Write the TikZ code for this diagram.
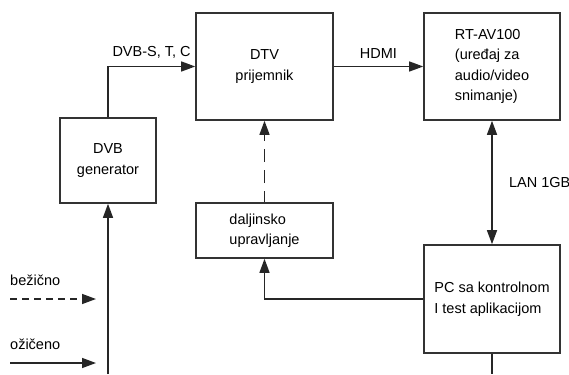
\documentclass[tikz,border=0pt]{standalone}
\usepackage{fontspec}
\setmainfont{Liberation Sans}
\usetikzlibrary{positioning, arrows.meta}

\tikzset{
  blok/.style={draw=black!80, line width=1.6pt, align=center, inner sep=2pt},
  veza/.style={draw=black!85, line width=1.4pt, -{Triangle[length=14pt,width=10pt]}},
  bezicno/.style={dash pattern=on 7pt off 5pt},
  zicano/.style={solid},
}

\begin{document}
\begin{tikzpicture}[x=1pt, y=-1pt, font=\fontsize{14.5}{20.5}\selectfont]
\useasboundingbox (0,0) rectangle (569,374);
% draw blocks
\node[blok, minimum width=137pt, minimum height=107pt] (dtv) at (264.5,66.5) {DTV\\prijemnik};
\node[blok, minimum width=136pt, minimum height=107pt, align=left] (rtav) at (492,66.5)
  {RT-AV100\\(uređaj za\\audio/video\\snimanje)};
\node[blok, minimum width=96pt, minimum height=85pt] (gen) at (108,160.5) {DVB\\generator};
\node[blok, minimum width=137pt, minimum height=55pt, align=left] (dalj) at (264.5,230.5)
  {daljinsko\\upravljanje};
\node[blok, minimum width=136pt, minimum height=108pt, align=left] (pc) at (492,299)
  {PC sa kontrolnom\\I test aplikacijom};
% free ends at the lower edge
\coordinate (genin) at (108,374);
\coordinate (pcout) at (492,374);
% draw connectors
\draw[veza] (gen.north) |- (dtv.west) node[pos=0.75, above=4pt] {DVB-S, T, C};
\draw[veza] (dtv.east) -- (rtav.west) node[midway, above=4pt] {HDMI};
\draw[veza, {Triangle[length=14pt,width=10pt]}-{Triangle[length=14pt,width=10pt]}] (rtav.south) -- (pc.north)
  node[midway, right=13pt] {LAN 1GB};
\draw[veza, dash pattern=on 13pt off 8pt, dash phase=2pt] (dalj.north) -- (dtv.south);
\draw[veza] (pc.west) -| (dalj.south);
\draw[veza] (genin) -- (gen.south);
\draw[draw=black!85, line width=1.4pt] (pc.south) -- (pcout);
% legend
\foreach \y/\descr/\vrsta in {299/bežično/bezicno, 363/ožičeno/zicano}
{
\coordinate (l\y) at (10,\y);
\coordinate (r\y) at (96,\y);
\draw[veza, \vrsta] (l\y) -- (r\y);
\node[anchor=south west, inner sep=0pt] (t\y) at (10,\y-13) {\descr};
}
\end{tikzpicture}
\end{document}
